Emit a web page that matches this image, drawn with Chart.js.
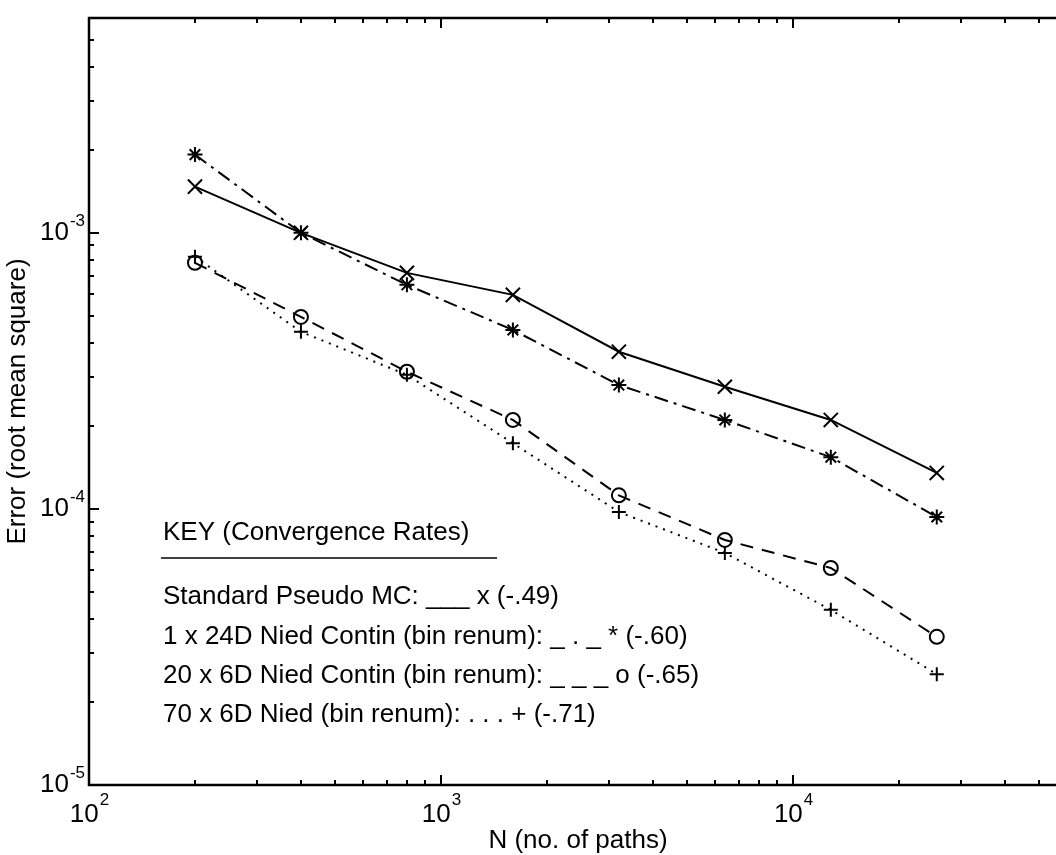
<!DOCTYPE html>
<html>
<head>
<meta charset="utf-8">
<script src="https://cdn.jsdelivr.net/npm/chart.js@4/dist/chart.umd.min.js"></script>
<style>
html, body { margin: 0; padding: 0; background: #fff; overflow: hidden; }
#zone { width: 1080px; height: 855px; }
</style>
</head>
<body>
<div id="zone"><canvas id="graphe" width="1080" height="855"></canvas></div>
<script>
// --- DONNÉES ---
const chemins = [200, 400, 800, 1600, 3200, 6400, 12800, 25600];
const pseudoMC = [1.47e-3, 1.0e-3, 7.16e-4, 5.96e-4, 3.71e-4, 2.77e-4, 2.10e-4, 1.35e-4];
const nied24D = [1.92e-3, 1.0e-3, 6.48e-4, 4.45e-4, 2.81e-4, 2.10e-4, 1.54e-4, 9.35e-5];
const niedContin6D = [7.79e-4, 4.96e-4, 3.14e-4, 2.10e-4, 1.12e-4, 7.72e-5, 6.11e-5, 3.44e-5];
const nied6D = [8.19e-4, 4.38e-4, 3.06e-4, 1.73e-4, 9.75e-5, 6.93e-5, 4.31e-5, 2.52e-5];

const xMajeurs = [2, 3, 4];      // exposants : 10^2, 10^3, 10^4
const yMajeurs = [-5, -4, -3];   // exposants : 10^-5, 10^-4, 10^-3
const xLimites = [100, 60000];
const yLimites = [1e-5, 6e-3];

const titreX = 'N (no. of paths)';
const titreY = 'Error (root mean square)';
const cle = [
    'KEY (Convergence Rates)',
    'Standard Pseudo MC: ___ x (-.49)',
    '1 x 24D Nied Contin (bin renum): _ . _ * (-.60)',
    '20 x 6D Nied Contin (bin renum): _ _ _ o (-.65)',
    '70 x 6D Nied (bin renum): . . . + (-.71)'
];

const POLICE = '"Liberation Sans", Arial, Helvetica, sans-serif';

const versPoints = (ys) => chemins.map((x, i) => ({ x: x, y: ys[i] }));

// --- CADRE, GRADUATIONS ET TEXTES (style MATLAB) ---
const cadreMatlab = {
    id: 'cadreMatlab',
    afterDraw(chart) {
        const ctx = chart.ctx;
        const a = chart.chartArea;
        const sx = chart.scales.x, sy = chart.scales.y;
        ctx.save();
        ctx.strokeStyle = '#000';
        ctx.fillStyle = '#000';

        // graduations vers l'intérieur
        ctx.lineWidth = 2;
        ctx.beginPath();
        for (let d = 100; d <= xLimites[1]; d *= 10) {
            for (let m = 1; m <= 9; m++) {
                const v = m * d;
                if (v < xLimites[0] || v > xLimites[1] * 1.0001) continue;
                const px = Math.round(sx.getPixelForValue(v));
                const l = (m === 1) ? 10 : 5;
                ctx.moveTo(px, a.bottom); ctx.lineTo(px, a.bottom - l);
                ctx.moveTo(px, a.top); ctx.lineTo(px, a.top + l);
            }
        }
        for (let d = 1e-5; d <= yLimites[1]; d *= 10) {
            for (let m = 1; m <= 9; m++) {
                const v = m * d;
                if (v > yLimites[1] * 1.0001) continue;
                const py = Math.round(sy.getPixelForValue(v));
                const l = (m === 1) ? 10 : 5;
                ctx.moveTo(a.left, py); ctx.lineTo(a.left + l, py);
                ctx.moveTo(a.right, py); ctx.lineTo(a.right - l, py);
            }
        }
        ctx.stroke();

        // cadre
        ctx.lineWidth = 2.5;
        ctx.strokeRect(a.left, a.top, a.right - a.left, a.bottom - a.top);

        // étiquettes 10^n
        const grand = '26px ' + POLICE, petit = '17px ' + POLICE;
        ctx.textBaseline = 'alphabetic';
        ctx.textAlign = 'left';
        xMajeurs.forEach(e => {
            const px = sx.getPixelForValue(Math.pow(10, e));
            ctx.font = grand; const w1 = ctx.measureText('10').width;
            ctx.font = petit; const w2 = ctx.measureText(String(e)).width;
            const x0 = px - (w1 + w2) / 2;
            ctx.font = grand; ctx.fillText('10', x0, a.bottom + 37);
            ctx.font = petit; ctx.fillText(String(e), x0 + w1 + 1, a.bottom + 20);
        });
        yMajeurs.forEach(e => {
            const py = sy.getPixelForValue(Math.pow(10, e));
            ctx.font = petit; const w2 = ctx.measureText(String(e)).width;
            ctx.font = grand; const w1 = ctx.measureText('10').width;
            const xd = a.left - 4;
            ctx.font = petit; ctx.fillText(String(e), xd - w2, py - 7);
            ctx.font = grand; ctx.fillText('10', xd - w2 - w1 - 1, py + 7);
        });

        // titres des axes
        ctx.font = grand;
        ctx.textAlign = 'center';
        ctx.fillText(titreX, (a.left + a.right) / 2, a.bottom + 63);
        ctx.save();
        ctx.translate(25, (a.top + a.bottom) / 2);
        ctx.rotate(-Math.PI / 2);
        ctx.fillText(titreY, 0, 0);
        ctx.restore();

        // légende écrite dans le graphique
        ctx.textAlign = 'left';
        ctx.textBaseline = 'middle';
        const xc = a.left + 74;
        ctx.fillText(cle[0], xc, 533);
        ctx.lineWidth = 1.5;
        ctx.beginPath();
        ctx.moveTo(xc - 2, 558); ctx.lineTo(497, 558);
        ctx.stroke();
        [597, 637, 676, 715].forEach((y, i) => ctx.fillText(cle[i + 1], xc, y));

        ctx.restore();
    }
};

const serie = (ys, style, rayon, tirets) => ({
    data: versPoints(ys),
    showLine: true,
    borderColor: '#000',
    backgroundColor: 'rgba(0,0,0,0)',
    borderWidth: 2,
    borderDash: tirets,
    pointStyle: style,
    pointRadius: rayon,
    pointBorderWidth: 2,
    pointBorderColor: '#000',
    pointBackgroundColor: 'rgba(0,0,0,0)',
    tension: 0
});

const graphe = new Chart(document.getElementById('graphe').getContext('2d'), {
    type: 'scatter',
    data: {
        datasets: [
            serie(pseudoMC, 'crossRot', 10, []),
            serie(nied24D, 'star', 7.5, [14, 6, 3, 6]),
            serie(niedContin6D, 'circle', 7, [13, 9]),
            serie(nied6D, 'cross', 7, [2, 6])
        ]
    },
    options: {
        responsive: false,
        animation: false,
        layout: { padding: { left: 89, top: 18, right: 13, bottom: 70 } },
        plugins: { legend: { display: false }, tooltip: { enabled: false } },
        scales: {
            x: {
                type: 'logarithmic', min: xLimites[0], max: xLimites[1],
                ticks: { display: false }, grid: { display: false }, border: { display: false },
                afterFit: s => { s.height = 0; }
            },
            y: {
                type: 'logarithmic', min: yLimites[0], max: yLimites[1],
                ticks: { display: false }, grid: { display: false }, border: { display: false },
                afterFit: s => { s.width = 0; }
            }
        }
    },
    plugins: [cadreMatlab]
});
</script>
</body>
</html>
